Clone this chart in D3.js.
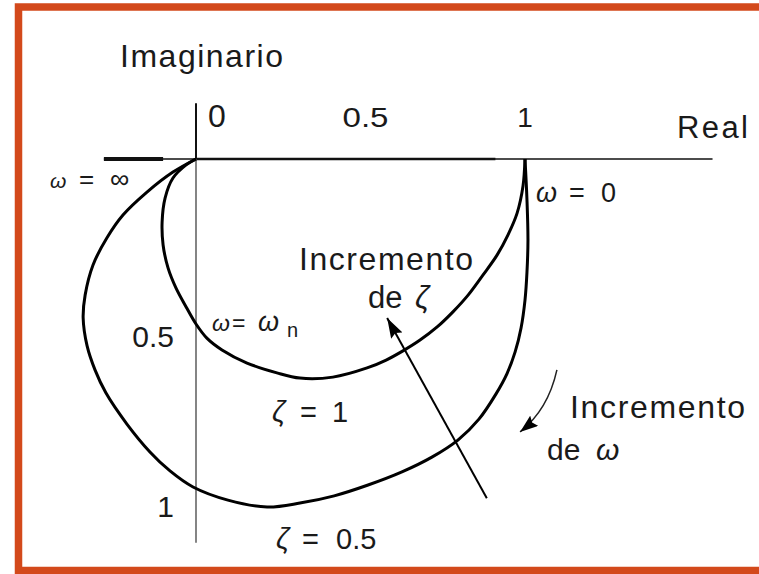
<!DOCTYPE html>
<html>
<head>
<meta charset="utf-8">
<script src="https://cdn.jsdelivr.net/npm/d3@7"></script>
<style>
  html, body { margin: 0; padding: 0; background: #fff; }
  svg { display: block; }
  text { font-family: "Liberation Sans", Arial, sans-serif; fill: #1a1a1a; }
</style>
</head>
<body>
<svg id="chart" width="759" height="574"></svg>
<script>
// Polar (Nyquist) plot of G(jω) = 1 / ((jω/ωn)^2 + 2ζ(jω/ωn) + 1)
// Points run from ω = 0 (at 1 + j0) to ω = ∞ (at the origin).

// ζ = 0.5
const reZeta05 = [1.0, 1.006, 1.009, 1.006, 1.0, 0.988, 0.970, 0.945, 0.912, 0.860, 0.796, 0.717, 0.626, 0.523, 0.420, 0.316, 0.216, 0.097, -0.009, -0.079, -0.140, -0.210, -0.274, -0.307, -0.331, -0.343, -0.337, -0.313, -0.271, -0.222, -0.149, -0.070, 0.0];
const imZeta05 = [0.0, -0.125, -0.247, -0.345, -0.430, -0.515, -0.588, -0.655, -0.716, -0.793, -0.857, -0.909, -0.954, -0.994, -1.027, -1.049, -1.061, -1.040, -1.0, -0.951, -0.893, -0.808, -0.713, -0.643, -0.570, -0.485, -0.415, -0.323, -0.241, -0.171, -0.101, -0.040, 0.0];

// ζ = 1
const reZeta1 = [1.0, 0.994, 0.976, 0.948, 0.915, 0.872, 0.827, 0.781, 0.733, 0.681, 0.629, 0.578, 0.520, 0.416, 0.316, 0.246, 0.155, 0.079, 0.033, 0.0, -0.030, -0.061, -0.085, -0.100, -0.103, -0.094, -0.070, -0.030, 0.0];
const imZeta1 = [0.0, -0.082, -0.165, -0.232, -0.293, -0.354, -0.415, -0.466, -0.512, -0.552, -0.585, -0.613, -0.637, -0.665, -0.668, -0.652, -0.622, -0.582, -0.546, -0.503, -0.451, -0.393, -0.332, -0.262, -0.192, -0.119, -0.058, -0.018, 0.0];

// Axis ticks
const realTicks = [0, 0.5, 1];
const realTickLabels = ["0", "0.5", "1"];
const imagTicks = [-0.5, -1];
const imagTickLabels = ["0.5", "1"];

// Extent of the drawn axes (data units)
const realAxisSpan = [-0.28, 1.57];
const imagAxisSpan = [0.17, -1.17];

// Annotation arrows (data units): start, [control], tip
const zetaArrow = [[0.884, -1.034], [0.581, -0.485]];
const omegaArrow = [[1.097, -0.643], [1.070, -0.765], [0.985, -0.832]];

const svg = d3.select("#chart");

const x = d3.scaleLinear().domain([0, 1]).range([196, 525]);
const y = d3.scaleLinear().domain([0, -1]).range([159, 487]);

// frame
svg.append("rect")
  .attr("x", 18.5).attr("y", 7)
  .attr("width", 800).attr("height", 563.5)
  .attr("fill", "none")
  .attr("stroke", "#d3491b")
  .attr("stroke-width", 7.5);

// real axis
svg.append("line")
  .attr("x1", x(realAxisSpan[0])).attr("x2", x(realAxisSpan[1]))
  .attr("y1", y(0)).attr("y2", y(0))
  .attr("stroke", "#111").attr("stroke-width", 1.6);
svg.append("line")
  .attr("x1", x(realAxisSpan[0])).attr("x2", x(-0.1))
  .attr("y1", y(0)).attr("y2", y(0))
  .attr("stroke", "#111").attr("stroke-width", 4);
svg.append("line")
  .attr("x1", x(0)).attr("x2", x(0.91))
  .attr("y1", y(0)).attr("y2", y(0))
  .attr("stroke", "#111").attr("stroke-width", 2.6);

// imaginary axis
svg.append("line")
  .attr("x1", x(0)).attr("x2", x(0))
  .attr("y1", y(imagAxisSpan[0])).attr("y2", y(0))
  .attr("stroke", "#111").attr("stroke-width", 2);
svg.append("line")
  .attr("x1", x(0)).attr("x2", x(0))
  .attr("y1", y(0)).attr("y2", y(imagAxisSpan[1]))
  .attr("stroke", "#666").attr("stroke-width", 1.6);

// loci
const line = d3.line()
  .x(d => x(d[0]))
  .y(d => y(d[1]))
  .curve(d3.curveCatmullRom.alpha(0.5));

const curves = [
  d3.zip(reZeta05, imZeta05),
  d3.zip(reZeta1, imZeta1)
];
svg.selectAll("path.locus")
  .data(curves)
  .join("path")
  .attr("class", "locus")
  .attr("d", line)
  .attr("fill", "none")
  .attr("stroke", "#000")
  .attr("stroke-width", 3)
  .attr("stroke-linejoin", "round");

// real-axis tick labels
const realLabelStyle = [
  { dx: 12, anchor: "start", size: 32, len: null },
  { dx: 5, anchor: "middle", size: 28, len: 46 },
  { dx: 0, anchor: "middle", size: 28, len: null }
];
realTicks.forEach((d, i) => {
  const s = realLabelStyle[i];
  const t = svg.append("text")
    .attr("x", x(d) + s.dx).attr("y", 127)
    .attr("text-anchor", s.anchor)
    .attr("font-size", s.size)
    .text(realTickLabels[i]);
  if (s.len) t.attr("textLength", s.len).attr("lengthAdjust", "spacingAndGlyphs");
});

// imaginary-axis tick labels
svg.selectAll("text.itick")
  .data(imagTicks)
  .join("text")
  .attr("class", "itick")
  .attr("x", x(0) - 22)
  .attr("y", d => y(d) + (d === -1 ? 30 : 24))
  .attr("text-anchor", "end")
  .attr("font-size", 30)
  .text((d, i) => imagTickLabels[i]);

// axis titles
svg.append("text").attr("x", 120).attr("y", 67)
  .attr("font-size", 32).attr("textLength", 163).attr("lengthAdjust", "spacing")
  .text("Imaginario");
svg.append("text").attr("x", 677).attr("y", 138)
  .attr("font-size", 31).attr("textLength", 71).attr("lengthAdjust", "spacing")
  .text("Real");

// a label built from separately placed pieces: [text, x, italic, dy, size]
function pieces(py, size, parts) {
  parts.forEach(([txt, px, italic, dy, sz]) => {
    svg.append("text")
      .attr("x", px).attr("y", py + (dy || 0))
      .attr("font-size", sz || size)
      .attr("font-style", italic ? "italic" : "normal")
      .text(txt);
  });
}

// frequency markers
pieces(188, 21, [["ω", 50, true], ["=", 79, false, 0, 26], ["∞", 110, false, 0, 27]]);
pieces(202, 27, [["ω", 536, true], ["=", 569, false], ["0", 601, false]]);
pieces(331, 23, [["ω", 212, true], ["=", 232, false], ["ω", 258, true, 0, 27], ["n", 287, false, 6, 20]]);

// damping labels
pieces(422, 29, [["ζ", 272, true], ["=", 300, false], ["1", 332, false]]);
pieces(549, 29, [["ζ", 276, true], ["=", 302, false], ["0.5", 336, false]]);

// annotation texts
svg.append("text").attr("x", 299).attr("y", 270)
  .attr("font-size", 32).attr("textLength", 174).attr("lengthAdjust", "spacing")
  .text("Incremento");
pieces(308, 31, [["de", 368, false], ["ζ", 415, true]]);

svg.append("text").attr("x", 570).attr("y", 418)
  .attr("font-size", 32).attr("textLength", 175).attr("lengthAdjust", "spacing")
  .text("Incremento");
pieces(460, 30, [["de", 547, false], ["ω", 596, true]]);

// arrowheads
const defs = svg.append("defs");
function marker(id, len, wid) {
  defs.append("marker")
    .attr("id", id)
    .attr("viewBox", `0 0 ${len} ${wid}`)
    .attr("refX", len).attr("refY", wid / 2)
    .attr("markerWidth", len).attr("markerHeight", wid)
    .attr("markerUnits", "userSpaceOnUse")
    .attr("orient", "auto")
    .append("path")
    .attr("d", `M0,0 L${len},${wid / 2} L0,${wid} L${len * 0.15},${wid / 2} Z`)
    .attr("fill", "#000");
}
marker("headZeta", 20, 13);
marker("headOmega", 18, 13);

// increasing ζ
svg.append("line")
  .attr("x1", x(zetaArrow[0][0])).attr("y1", y(zetaArrow[0][1]))
  .attr("x2", x(zetaArrow[1][0])).attr("y2", y(zetaArrow[1][1]))
  .attr("stroke", "#000").attr("stroke-width", 2)
  .attr("marker-end", "url(#headZeta)");

// increasing ω
const [o0, oc, o1] = omegaArrow.map(p => [x(p[0]), y(p[1])]);
svg.append("path")
  .attr("d", `M${o0[0]},${o0[1]} Q${oc[0]},${oc[1]} ${o1[0]},${o1[1]}`)
  .attr("fill", "none")
  .attr("stroke", "#222").attr("stroke-width", 1.5)
  .attr("marker-end", "url(#headOmega)");
</script>
</body>
</html>
